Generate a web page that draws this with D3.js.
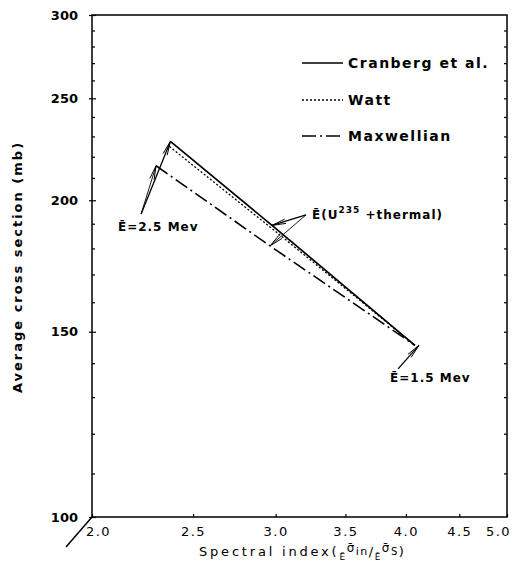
<!DOCTYPE html>
<html><head><meta charset="utf-8">
<script src="https://cdn.jsdelivr.net/npm/d3@7"></script>
<style>body{margin:0;background:#fff} svg{display:block}</style>
</head><body><svg id="c" width="521" height="578"></svg>
<script>
// ---- data ----
const seriesNames = ["Cranberg et al.", "Watt", "Maxwellian"];
const cranbergX = [2.378, 2.976, 4.08];
const cranbergY = [227.5, 189.3, 145.6];
const wattX = [2.373, 2.976, 4.08];
const wattY = [225.0, 188.0, 145.6];
const maxwellX = [2.304, 2.963, 4.08];
const maxwellY = [215.7, 181.0, 145.6];
const xTicks = [2.0, 2.5, 3.0, 3.5, 4.0, 4.5, 5.0];
const yTicks = [100, 150, 200, 250, 300];
const yMinorTicks = [110,120,130,140,160,170,180,190,210,220,230,240,260,270,280,290];
// annotations (anchor points in data coordinates)
const annLabelX = [2.118, 3.251, 3.862];
const annLabelY = [187.0, 192.0, 134.4];
const annBaseX = [2.229, 3.208, 3.931];
const annBaseY = [194.1, 193.7, 138.3];

// ---- layout ----
const L = 92, R = 507, T = 15, B = 517;
const svg = d3.select("#c");
const x = d3.scaleLog().domain([2, 5]).range([L, R]);
const y = d3.scaleLog().domain([100, 300]).range([B, T]);
const FONT = "DejaVu Sans, sans-serif";

// frame
svg.append("rect").attr("x", L).attr("y", T).attr("width", R - L).attr("height", B - T)
  .attr("fill", "none").attr("stroke", "#000").attr("stroke-width", 1.5);
// axis break diagonal
svg.append("line").attr("x1", L).attr("y1", B).attr("x2", L - 26).attr("y2", B + 30)
  .attr("stroke", "#000").attr("stroke-width", 1.5);

// bottom axis
const gx = svg.append("g").attr("transform", `translate(0,${B})`)
  .call(d3.axisBottom(x).tickValues(xTicks).tickFormat(d3.format(".1f")).tickSize(-3).tickPadding(10));
gx.select(".domain").remove();
gx.selectAll("line").attr("stroke", "#000").attr("stroke-width", 1.2);
gx.selectAll("text").attr("font-family", FONT).attr("font-size", 13).attr("letter-spacing", 1.5)
  .attr("fill", "#000")
  .attr("dx", (d, i) => i === 0 ? 6 : (i === xTicks.length - 1 ? -9 : 0));

// left axis major
const gy = svg.append("g").attr("transform", `translate(${L},0)`)
  .call(d3.axisLeft(y).tickValues(yTicks).tickFormat(d3.format("d")).tickSize(-4).tickPadding(14));
gy.select(".domain").remove();
gy.selectAll("line").attr("stroke", "#000").attr("stroke-width", 1.2).attr("x1", -3);
gy.selectAll("text").attr("font-family", FONT).attr("font-size", 13).attr("font-weight", "bold")
  .attr("fill", "#000");
// left minor
const gym = svg.append("g").attr("transform", `translate(${L},0)`)
  .call(d3.axisLeft(y).tickValues(yMinorTicks).tickFormat("").tickSize(-3));
gym.select(".domain").remove();
gym.selectAll("line").attr("stroke", "#000").attr("stroke-width", 1.2);
// right ticks
const gr = svg.append("g").attr("transform", `translate(${R},0)`)
  .call(d3.axisRight(y).tickValues(yMinorTicks.concat(yTicks.slice(1, -1))).tickFormat("").tickSize(-3));
gr.select(".domain").remove();
gr.selectAll("line").attr("stroke", "#000").attr("stroke-width", 1.2);

// axis titles
svg.append("text")
  .attr("transform", `translate(22,267) rotate(-90)`)
  .attr("text-anchor", "middle").attr("font-family", FONT).attr("font-size", 13)
  .attr("font-weight", "bold").attr("letter-spacing", 2).attr("fill", "#000")
  .text("Average cross section (mb)");

const xt = svg.append("text").attr("x", 199).attr("y", 556)
  .attr("font-family", FONT).attr("font-size", 13).attr("fill", "#000").attr("letter-spacing", 2.8);
xt.append("tspan").text("Spectral index(");
const tail = [
  ["Ē", 9, 4], ["σ̄", 12, -8], ["in", 11, 3], ["/", 13, 1],
  ["Ē", 9, 4], ["σ̄", 12, -8], ["S", 10, 3], [")", 13, 1]
];
tail.forEach(([t, fs, dy]) => xt.append("tspan").attr("font-size", fs).attr("dy", dy)
  .attr("letter-spacing", 1.5).text(t));

// series
const series = [
  {name: seriesNames[0], xs: cranbergX, ys: cranbergY, dash: null, w: 1.7},
  {name: seriesNames[1], xs: wattX, ys: wattY, dash: "2,2", w: 1.3},
  {name: seriesNames[2], xs: maxwellX, ys: maxwellY, dash: "14,4,2,4", w: 1.6}
];
const line = d3.line().x(d => x(d[0])).y(d => y(d[1]));
series.forEach(s => {
  svg.append("path").datum(s.xs.map((v, i) => [v, s.ys[i]]))
    .attr("d", line).attr("fill", "none").attr("stroke", "#000")
    .attr("stroke-width", s.w).attr("stroke-dasharray", s.dash);
});

// legend
const legY = [63, 100, 136];
series.forEach((s, i) => {
  svg.append("line").attr("x1", 302).attr("x2", 343).attr("y1", legY[i]).attr("y2", legY[i])
    .attr("stroke", "#000").attr("stroke-width", s.w).attr("stroke-dasharray", s.dash);
  svg.append("text").attr("x", 348).attr("y", legY[i] + 5)
    .attr("font-family", FONT).attr("font-size", 14).attr("font-weight", "bold")
    .attr("letter-spacing", 1.5).attr("fill", "#000").text(s.name);
});

// annotations
function arrow(x1, y1, x2, y2, w) {
  const dx = x2 - x1, dy = y2 - y1, len = Math.hypot(dx, dy);
  const ux = dx / len, uy = dy / len, nx = -uy, ny = ux, Lh = 14, hw = 2.2;
  svg.append("line").attr("x1", x1).attr("y1", y1).attr("x2", x2).attr("y2", y2)
    .attr("stroke", "#000").attr("stroke-width", w);
  svg.append("path").attr("d",
    `M${x2 - Lh*ux + hw*nx},${y2 - Lh*uy + hw*ny}L${x2},${y2}L${x2 - Lh*ux - hw*nx},${y2 - Lh*uy - hw*ny}`)
    .attr("fill", "none").attr("stroke", "#000").attr("stroke-width", 1);
}
const annTargets = [
  [[cranbergX[0], cranbergY[0]], [maxwellX[0], maxwellY[0]]],
  [[cranbergX[1], cranbergY[1]], [maxwellX[1], maxwellY[1]]],
  [[cranbergX[2], cranbergY[2]]]
];
annTargets.forEach((tg, i) => {
  tg.forEach((p, j) => arrow(x(annBaseX[i]), y(annBaseY[i]), x(p[0]) + (i === 2 ? 4 : 0), y(p[1]), j === 0 ? 1.3 : 0.9));
});
const annStyle = t => t.attr("font-family", FONT).attr("font-size", 12).attr("font-weight", "bold")
  .attr("letter-spacing", 1).attr("fill", "#000");
annStyle(svg.append("text").attr("x", x(annLabelX[0])).attr("y", y(annLabelY[0]))).text("Ē=2.5 Mev");
annStyle(svg.append("text").attr("x", x(annLabelX[2])).attr("y", y(annLabelY[2]))).text("Ē=1.5 Mev");
const t2 = annStyle(svg.append("text").attr("x", x(annLabelX[1])).attr("y", y(annLabelY[1])));
t2.append("tspan").text("Ē(U");
t2.append("tspan").attr("font-size", 9).attr("dy", -6).text("235");
t2.append("tspan").attr("dy", 6).text(" +thermal)");
</script></body></html>
